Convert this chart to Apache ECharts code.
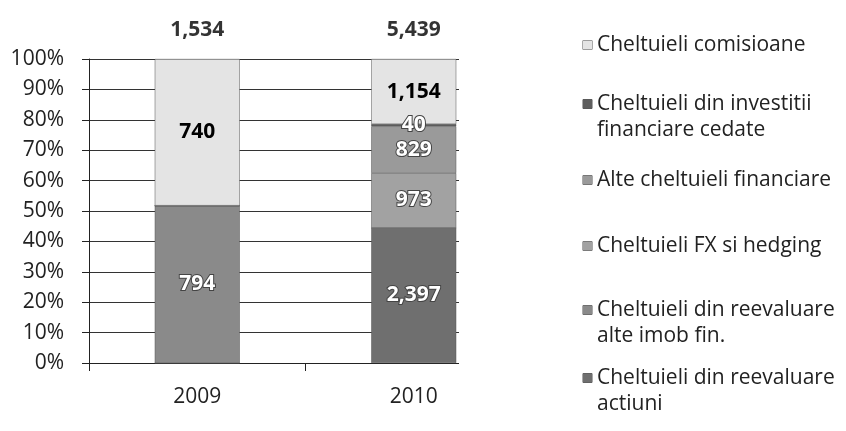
<!DOCTYPE html>
<html>
<head>
<meta charset="utf-8">
<script src="https://cdn.jsdelivr.net/npm/echarts@6/dist/echarts.min.js"></script>
<style>
  html, body { margin: 0; padding: 0; background: #fff; }
  #chart { width: 846px; height: 431px; }
</style>
</head>
<body>
<div id="chart"></div>
<script>
var years = ['2009', '2010'];
var totals = ['1,534', '5,439'];
var yTicks = [0, 10, 20, 30, 40, 50, 60, 70, 80, 90, 100];

// stacked from the bottom up
var seriesNames = [
    'Cheltuieli din reevaluare actiuni',
    'Cheltuieli din reevaluare alte imob fin.',
    'Cheltuieli FX si hedging',
    'Alte cheltuieli financiare',
    'Cheltuieli din investitii financiare cedate',
    'Cheltuieli comisioane'
];
var reevActiuni = [0, 2397];
var reevAlteImob = [794, 0];
var fxHedging = [0, 973];
var alteFinanciare = [0, 829];
var investitiiCedate = [0, 40];
var comisioane = [740, 1154];

var values = [reevActiuni, reevAlteImob, fxHedging, alteFinanciare, investitiiCedate, comisioane];
var colors = ['#6f6f6f', '#8a8a8a', '#a2a2a2', '#9a9a9a', '#5e5e5e', '#e4e4e4'];
var labelDark = [false, false, false, false, false, true];

// legend lines, as wrapped in the picture
var legendLines = {
    'Cheltuieli comisioane': ['Cheltuieli comisioane'],
    'Cheltuieli din investitii financiare cedate': ['Cheltuieli din investitii', 'financiare cedate'],
    'Alte cheltuieli financiare': ['Alte cheltuieli financiare'],
    'Cheltuieli FX si hedging': ['Cheltuieli FX si hedging'],
    'Cheltuieli din reevaluare alte imob fin.': ['Cheltuieli din reevaluare', 'alte imob fin.'],
    'Cheltuieli din reevaluare actiuni': ['Cheltuieli din reevaluare', 'actiuni']
};
var legendOrder = seriesNames.slice().reverse();
var legendTops = [32, 91, 167, 233, 297, 365];

var font = 'Open Sans';
var fs = 21;

var sums = years.map(function (y, i) {
    var s = 0;
    values.forEach(function (v) { s += v[i]; });
    return s;
});

var series = values.map(function (v, k) {
    return {
        name: seriesNames[k],
        type: 'bar',
        stack: 'total',
        barWidth: 85,
        itemStyle: { color: colors[k], borderColor: '#555', borderWidth: 0.5 },
        label: {
            show: true,
            position: 'inside',
            fontFamily: font,
            fontWeight: 'bold',
            fontSize: fs,
            color: labelDark[k] ? '#000' : '#fff',
            textBorderColor: labelDark[k] ? 'transparent' : '#444',
            textBorderWidth: labelDark[k] ? 0 : 2,
            formatter: function (p) {
                var raw = v[p.dataIndex];
                return raw ? raw.toLocaleString('en-US') : '';
            }
        },
        data: v.map(function (x, i) { return x / sums[i] * 100; })
    };
});

series.push({
    name: 'totals',
    type: 'scatter',
    symbolSize: 0,
    silent: true,
    z: 1,
    label: {
        show: true,
        position: 'top',
        distance: 18,
        fontFamily: font,
        fontWeight: 'bold',
        fontSize: fs,
        color: '#000',
        formatter: function (p) { return totals[p.dataIndex]; }
    },
    data: years.map(function () { return 100; })
});

var legends = legendOrder.map(function (name, i) {
    var k = seriesNames.indexOf(name);
    var lines = legendLines[name];
    return {
        data: [name],
        orient: 'vertical',
        left: 578,
        top: legendTops[i],
        icon: 'none',
        itemWidth: 0,
        itemHeight: 0,
        padding: 0,
        selectedMode: false,
        formatter: function () {
            var s = '{m|}{t|' + lines[0] + '}';
            if (lines[1]) s += '\n{t2|' + lines[1] + '}';
            return s;
        },
        textStyle: {
            fontFamily: font,
            fontSize: fs,
            color: '#222',
            lineHeight: 26,
            rich: {
                m: {
                    width: 9, height: 9, backgroundColor: colors[k],
                    borderColor: '#555', borderWidth: 0.5, verticalAlign: 'middle'
                },
                t: { fontFamily: font, fontSize: fs, color: '#222', lineHeight: 26, padding: [0, 0, 0, 5] },
                t2: { fontFamily: font, fontSize: fs, color: '#222', lineHeight: 26, padding: [0, 0, 0, 14] }
            }
        }
    };
});

var chart = echarts.init(document.getElementById('chart'));
chart.setOption({
    animation: false,
    grid: { left: 89, right: 324, top: 59, bottom: 68 },
    legend: legends,
    // legend box of the original sits over the right end of the plot area
    graphic: [{
        type: 'rect',
        left: 459, top: 50,
        shape: { width: 80, height: 330 },
        style: { fill: '#fff' },
        z: 50
    }],
    xAxis: {
        type: 'category',
        data: years,
        axisLine: { lineStyle: { color: '#222', width: 1 } },
        axisTick: { show: true, interval: 0, length: 8, lineStyle: { color: '#222' } },
        axisLabel: { fontFamily: font, fontSize: fs, color: '#222', margin: 24 }
    },
    yAxis: {
        type: 'value',
        min: yTicks[0],
        max: yTicks[yTicks.length - 1],
        interval: 10,
        axisLine: { show: true, lineStyle: { color: '#222', width: 1 } },
        axisTick: { show: true, length: 7, lineStyle: { color: '#222' } },
        splitLine: { lineStyle: { color: '#333', width: 1 } },
        axisLabel: { fontFamily: font, fontSize: fs, color: '#222', margin: 25, formatter: '{value}%' }
    },
    series: series
});
</script>
</body>
</html>
